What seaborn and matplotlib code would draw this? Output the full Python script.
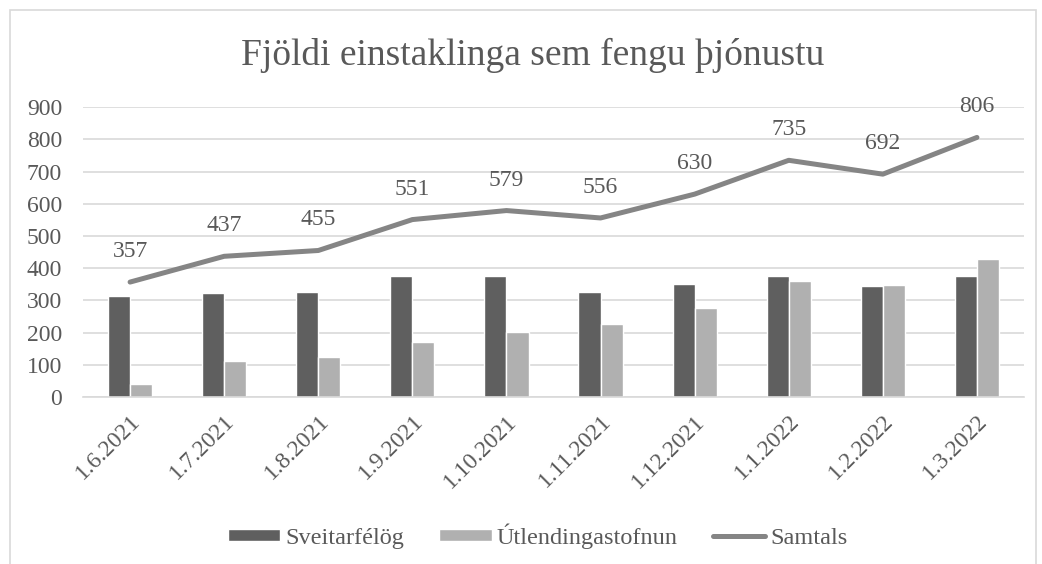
import numpy as np
import pandas as pd
import matplotlib
matplotlib.use("Agg")
import matplotlib.pyplot as plt
import seaborn as sns
from matplotlib.patches import Patch, Rectangle
from matplotlib.lines import Line2D

# --- data ---
dates = ['1.6.2021', '1.7.2021', '1.8.2021', '1.9.2021', '1.10.2021',
         '1.11.2021', '1.12.2021', '1.1.2022', '1.2.2022', '1.3.2022']
sveitarfelog = [313, 323, 327, 376, 375, 326, 352, 375, 345, 376]
utlendingastofnun = [41, 111, 125, 172, 201, 228, 277, 359, 347, 429]
samtals = [357, 437, 455, 551, 579, 556, 630, 735, 692, 806]

series_names = ['Sveitarfélög', 'Útlendingastofnun']
colors = {'Sveitarfélög': '#5f5f5f', 'Útlendingastofnun': '#b0b0b0'}
line_color = '#858585'
text_color = '#595959'
grid_color = '#d9d9d9'
fs = 17

df = pd.DataFrame({
    'dags': dates * 2,
    'fjoldi': sveitarfelog + utlendingastofnun,
    'hopur': [series_names[0]] * len(dates) + [series_names[1]] * len(dates),
})

sns.set_style("white")
plt.rcParams['font.family'] = ['Liberation Serif', 'DejaVu Serif']
plt.rcParams['text.color'] = text_color
plt.rcParams['xtick.color'] = text_color
plt.rcParams['ytick.color'] = text_color

fig = plt.figure(figsize=(10.42, 5.64), dpi=100)
ax = fig.add_axes([0.0797, 0.296, 0.903, 0.514])

sns.barplot(data=df, x='dags', y='fjoldi', hue='hopur', order=dates,
            hue_order=series_names, palette=colors, width=0.47,
            saturation=1, ax=ax, legend=False)

xpos = np.arange(len(dates))
sns.lineplot(x=xpos, y=samtals, color=line_color, linewidth=3.6, ax=ax,
             solid_capstyle='round', sort=False)

for x, v in zip(xpos, samtals):
    ax.annotate(str(v), (x, v), xytext=(0, 22), textcoords='offset points',
                ha='center', va='center', fontsize=fs, color=text_color)

ax.set_ylim(0, 900)
ax.set_xlim(-0.5, len(dates) - 0.5)
ax.set_yticks(range(0, 901, 100))
ax.yaxis.grid(True, color=grid_color, linewidth=1.2)
ax.set_axisbelow(True)
ax.set_xlabel('')
ax.set_ylabel('')
for s in ['left', 'right', 'top']:
    ax.spines[s].set_visible(False)
ax.spines['bottom'].set_color(grid_color)
ax.spines['bottom'].set_linewidth(1.2)

ax.tick_params(axis='y', length=0, pad=15, labelsize=fs)
ax.tick_params(axis='x', which='major', length=0, pad=10, labelsize=fs)
ax.set_xticks(xpos)
ax.set_xticklabels(dates, rotation=45, ha='right', rotation_mode='anchor')
ax.set_xticks(np.arange(-0.5, len(dates), 1), minor=True)
ax.tick_params(axis='x', which='minor', length=4, color=grid_color, width=1.2)

fig.text(0.511, 0.902, 'Fjöldi einstaklinga sem fengu þjónustu',
         ha='center', va='center', fontsize=27, color=text_color)

handles = [Patch(facecolor=colors[series_names[0]], label=series_names[0]),
           Patch(facecolor=colors[series_names[1]], label=series_names[1]),
           Line2D([0], [0], color=line_color, linewidth=3.6, label='Samtals')]
fig.legend(handles=handles, loc='center', bbox_to_anchor=(0.516, 0.05), ncol=3,
           frameon=False, fontsize=17.5, handlelength=2.15, handleheight=0.42,
           handletextpad=0.2, columnspacing=1.45)

# chart area border
fig.patches.append(Rectangle((10 / 1042, -0.05), 1026 / 1042, 1.05 - 10 / 564,
                             transform=fig.transFigure, fill=False,
                             edgecolor=grid_color, linewidth=1.2))

fig.savefig('out.png', dpi=100)
